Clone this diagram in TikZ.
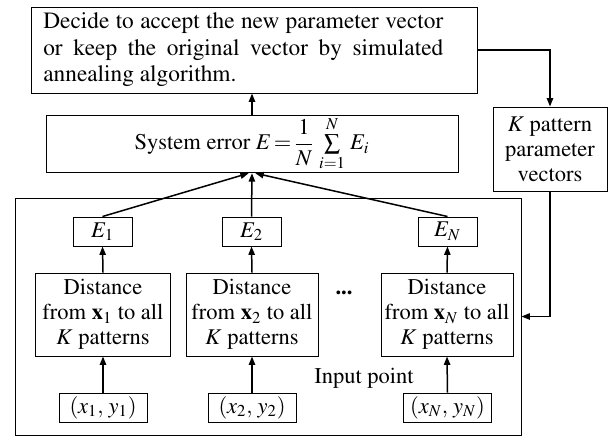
\documentclass[tikz,border=0pt]{standalone}
\usepackage[T1]{fontenc}
\usepackage{mathptmx}
\usetikzlibrary{arrows.meta}

\begin{document}
\begin{tikzpicture}[x=0.6pt,y=-0.6pt,>={Triangle[length=5pt,width=3.8pt]},
  font=\fontsize{13.5}{15}\selectfont,
  box/.style={draw,line width=0.6pt,inner sep=1pt},
  flow/.style={->,line width=0.9pt}]
  \useasboundingbox (0,0) rectangle (614,436);
  % top row
  \node[box,minimum width=267.6pt,minimum height=51.6pt] (dec) at (254,50) {};
  \node[anchor=west,inner sep=0pt,font=\fontsize{14}{15.9}\selectfont] (dectext) at (43,50)
    {\parbox{240pt}{Decide to accept the new parameter vector\linebreak or keep the original vector by simulated\linebreak annealing algorithm.}};
  \node[box,minimum width=247.2pt,minimum height=32.4pt] (sys) at (252,144)
    {System error $E\!=\!{\displaystyle\frac{1}{N}}\,\sum\limits_{i=1}^{N}\,E_i$};
  \node[box,align=center,minimum width=68.4pt,minimum height=50.4pt] (kvec) at (550,149)
    {$K$ pattern\\parameter\\vectors};
  % frame round the per-point part
  \node[draw,line width=0.6pt,inner sep=0pt,minimum width=303.6pt,minimum height=142.2pt] (frame) at (268,316.5) {};
  \node[box,minimum width=35.4pt,minimum height=17.4pt] (e1) at (102.5,231.5) {$E_1$};
  \node[box,minimum width=35.4pt,minimum height=17.4pt] (e2) at (251.5,231.5) {$E_2$};
  \node[box,minimum width=35.4pt,minimum height=17.4pt] (eN) at (447.5,231.5) {$E_N$};
  \node[box,align=center,minimum width=81pt,minimum height=49.8pt] (d1) at (103,314.5)
    {Distance\\from $\mathbf{x}_1$ to all\\$K$ patterns};
  \node[box,align=center,minimum width=79.2pt,minimum height=49.8pt] (d2) at (252,314.5)
    {Distance\\from $\mathbf{x}_2$ to all\\$K$ patterns};
  \node[box,align=center,minimum width=79.2pt,minimum height=49.8pt] (dN) at (447,314.5)
    {Distance\\from $\mathbf{x}_N$ to all\\$K$ patterns};
  \node[box,minimum width=52.8pt,minimum height=17.4pt] (in1) at (103,407.5) {$(x_1,\,y_1)$};
  \node[box,minimum width=52.8pt,minimum height=17.4pt] (in2) at (252,407.5) {$(x_2,\,y_2)$};
  \node[box,minimum width=52.8pt,minimum height=17.4pt] (inN) at (447.5,407.5) {$(x_N,\,y_N)$};
  \node (dots) at (344,293) {\textbf{...}};
  \node (inlabel) at (364,378) {Input point};
  % connectors
  \draw[flow] (sys.north) -- (sys.north |- dec.south);
  \draw[flow] (dec.east) -| (kvec.north);
  \draw[flow] (kvec.south) |- (frame.east);
  \draw[flow] (e1.north) -- ([xshift=-2pt]sys.south);
  \draw[flow] (e2.north) -- (sys.south);
  \draw[flow] (eN.north) -- ([xshift=2pt]sys.south);
  \draw[flow] (d1.north) -- (e1.south);
  \draw[flow] (d2.north) -- (e2.south);
  \draw[flow] (dN.north) -- (eN.south);
  \draw[flow] (in1.north) -- (d1.south);
  \draw[flow] (in2.north) -- (d2.south);
  \draw[flow] (inN.north) -- (dN.south);
\end{tikzpicture}
\end{document}
